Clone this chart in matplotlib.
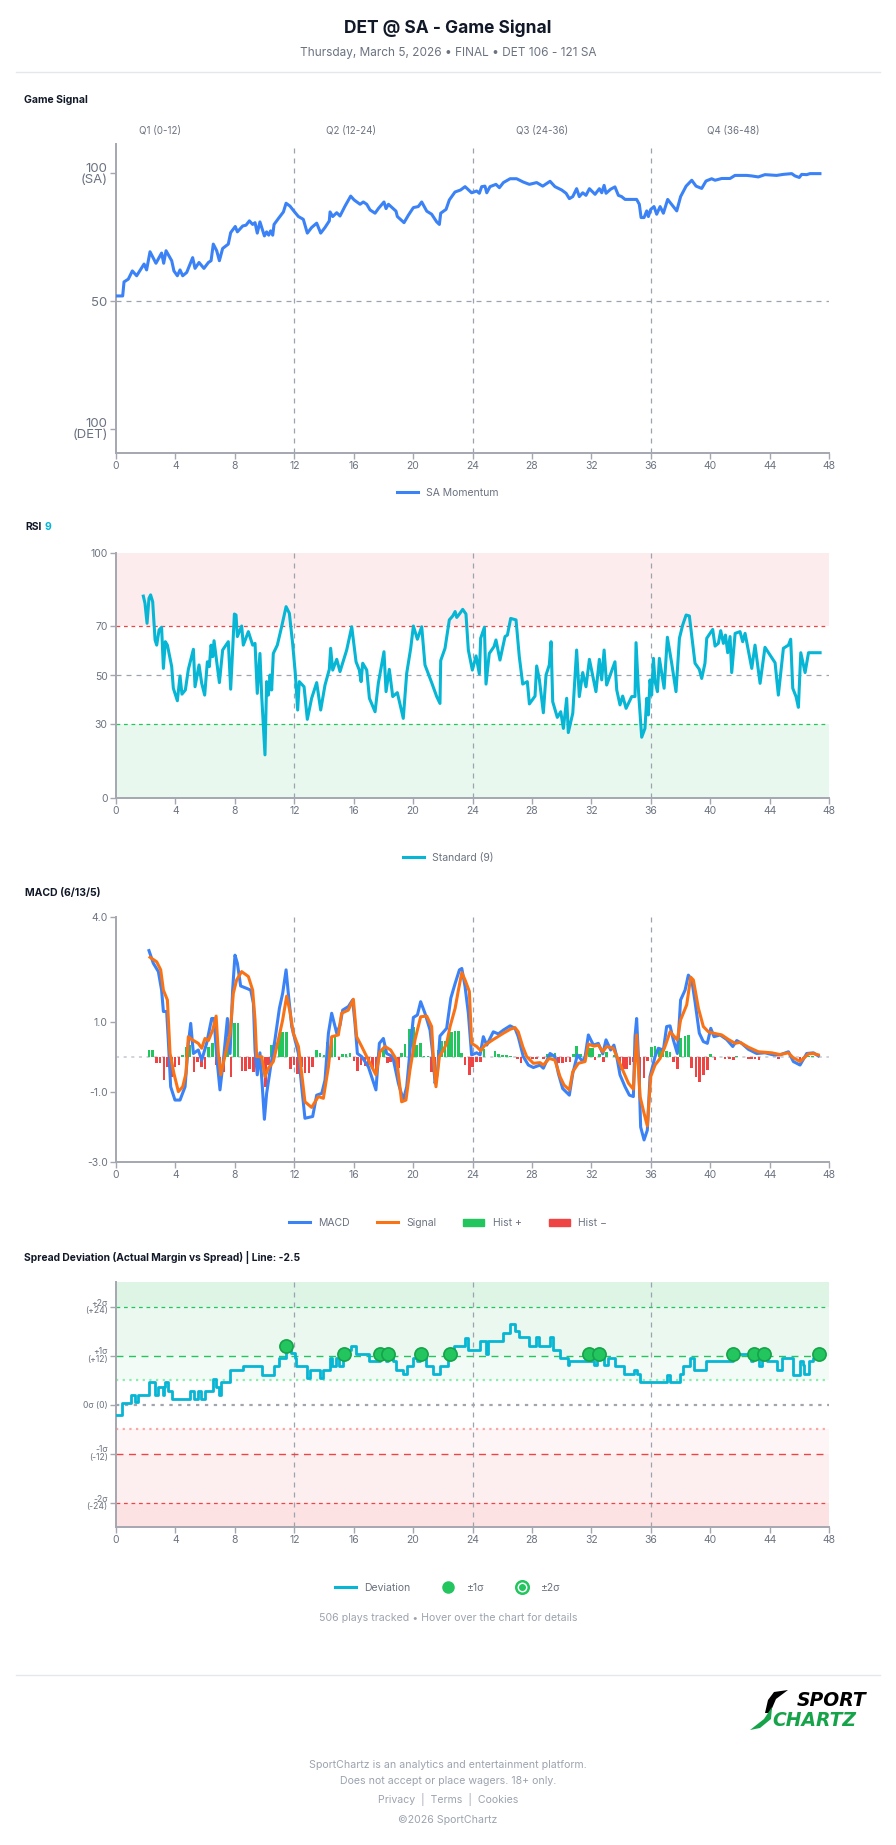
import numpy as np
import matplotlib
matplotlib.use("Agg")
import matplotlib.pyplot as plt
from matplotlib.lines import Line2D
from matplotlib.patches import Patch, Polygon
from matplotlib.legend_handler import HandlerTuple

plt.rcParams["font.family"] = ["Inter", "DejaVu Sans"]

# ---------------- data ----------------
quarters = ["Q1 (0-12)", "Q2 (12-24)", "Q3 (24-36)", "Q4 (36-48)"]

# SA momentum (0 = DET 100, 100 = SA 100)
mom_t = [0, 0.45, 0.54, 0.83, 1.1, 1.39, 1.89, 2.06, 2.29, 2.69, 3.07, 3.21, 3.37, 3.75, 3.9, 4.13, 4.31, 4.49, 4.76,
         5.16, 5.32, 5.59, 5.92, 6.22, 6.4, 6.55, 6.78, 6.96, 7.18, 7.56, 7.72, 8.03, 8.17, 8.53, 8.75, 8.98, 9.2, 9.36,
         9.51, 9.69, 9.99, 10.14, 10.28, 10.41, 10.55, 10.64, 10.93, 11.27, 11.45, 11.71, 11.98, 12.28, 12.61, 12.88,
         13.17, 13.51, 13.78, 14.07, 14.36, 14.41, 14.59, 14.86, 15.08, 15.42, 15.8, 16.03, 16.43, 16.65, 16.88, 17.1,
         17.44, 17.66, 18.04, 18.18, 18.34, 18.85, 18.94, 19.39, 19.68, 20.02, 20.35, 20.58, 20.92, 21.25, 21.59, 21.77,
         21.86, 22.22, 22.44, 22.82, 23.2, 23.5, 23.94, 24.28, 24.46, 24.62, 24.84, 24.96, 25.18, 25.58, 25.81, 26.08,
         26.53, 26.97, 27.42, 27.83, 28.32, 28.73, 29.22, 29.55, 30.0, 30.3, 30.52, 30.75, 31.01, 31.19, 31.42, 31.64,
         31.87, 32.25, 32.54, 32.7, 32.86, 32.99, 33.3, 33.59, 33.82, 34.04, 34.27, 35.05, 35.23, 35.35, 35.55, 35.73,
         35.84, 36.0, 36.22, 36.4, 36.63, 36.85, 37.14, 37.75, 38.01, 38.38, 38.76, 39.05, 39.43, 39.72, 40.1, 40.33,
         40.78, 41.34, 41.67, 42.46, 42.79, 43.24, 43.69, 44.47, 44.92, 45.49, 45.71, 46.0, 46.16, 46.5, 46.72, 47.39]
mom_v = [52, 52, 57.5, 58.6, 61.8, 59.9, 64.5, 62.2, 69.3, 64.8, 68.8, 64.8, 69.7, 65.8, 61.8, 59.9, 62.2, 59.9, 61.2,
         67, 62.8, 65.1, 62.8, 65.1, 65.8, 72.3, 69.7, 65.8, 70.6, 72.3, 76.8, 79.2, 77.1, 79.4, 79.7, 81.4, 80, 80.7,
         76.6, 81, 75.5, 77.1, 75.8, 77.5, 75.8, 80, 82.3, 84.9, 88.3, 87.2, 85.2, 83.1, 82, 76.6,
         78.8, 80.5, 76.6, 78.8, 81.4, 84.9, 83.1, 84.6, 83.3, 87.2, 91.1, 89.6, 87.9, 88.8, 87.9, 85.7,
         84.4, 86.2, 88.8, 86.2, 87.9, 85.2, 83.1, 80.7, 83.6, 86.6, 87, 88.8, 85.2, 84, 81, 80,
         84.4, 85.9, 89.6, 92.7, 93.5, 94.8, 92.4, 93.1, 92.2, 94.8, 95, 92.4, 94.8, 95.7, 94.4, 96.4,
         97.9, 97.9, 96.6, 95.7, 96.4, 95, 96.9, 94.8, 93.5, 92.2, 90.1, 90.9, 94, 90.9, 92.4, 91.4,
         94, 91.8, 94, 92.4, 95.3, 92.2, 93.8, 94.7, 91.4, 90.9, 89.8, 89.8, 87.9, 82.7, 82.7, 85.3,
         83.1, 85.9, 87, 84, 87, 84.4, 89.8, 85.3, 90.9, 95, 97.3, 95, 94.1, 97, 97.9, 97.3,
         98, 98, 99.2, 99.2, 99, 98.6, 99.5, 99.2, 99.6, 99.9, 99, 98.4, 99.6, 99.5, 99.9, 99.9]

# RSI (9)
rsi_t = [1.84, 1.95, 2.09, 2.22, 2.33, 2.47, 2.63, 2.74, 2.9, 3.07, 3.19, 3.32, 3.46, 3.75, 3.86, 4.13, 4.31, 4.44,
         4.67, 4.87, 5.21, 5.32, 5.59, 5.77, 5.97, 6.15, 6.28, 6.4, 6.51, 6.6, 6.96, 7.18, 7.56, 7.72, 7.97, 8.08, 8.17,
         8.46, 8.57, 8.91, 9.2, 9.36, 9.51, 9.69, 9.81, 10.03, 10.14, 10.26, 10.37, 10.48, 10.59, 10.86, 11.15, 11.45,
         11.67, 11.89, 12.07, 12.23, 12.34, 12.66, 12.88, 13.17, 13.51, 13.78, 14.07, 14.36, 14.45, 14.59, 14.86, 15.08,
         15.53, 15.87, 16.16, 16.38, 16.5, 16.61, 16.88, 17.06, 17.44, 17.66, 18.04, 18.18, 18.4, 18.63, 18.94, 19.34,
         19.57, 19.84, 20.02, 20.29, 20.58, 20.8, 21.25, 21.59, 21.81, 21.86, 22.15, 22.44, 22.67, 22.83, 22.94, 23.12,
         23.34, 23.56, 23.72, 23.99, 24.24, 24.46, 24.55, 24.8, 24.91, 25.13, 25.45, 25.58, 25.85, 26.19, 26.35, 26.57,
         26.93, 27.15, 27.38, 27.69, 27.83, 28.21, 28.32, 28.5, 28.77, 28.95, 29.17, 29.29, 29.4, 29.71, 29.94, 30.12,
         30.34, 30.45, 30.75, 31.01, 31.19, 31.42, 31.64, 31.87, 32.31, 32.54, 32.7, 32.86, 33.03, 33.59, 33.71, 33.93,
         34.11, 34.34, 34.72, 34.94, 35.01, 35.17, 35.39, 35.61, 35.73, 35.84, 35.95, 36.06, 36.18, 36.29, 36.45, 36.58,
         36.9, 37.12, 37.41, 37.7, 37.93, 38.15, 38.38, 38.6, 38.98, 39.27, 39.43, 39.65, 39.77, 40.17, 40.33, 40.55,
         40.71, 40.89, 41.03, 41.18, 41.34, 41.45, 41.68, 42.01, 42.19, 42.35, 42.8, 43.02, 43.36, 43.69, 44.37, 44.59,
         44.93, 45.27, 45.42, 45.56, 45.78, 45.94, 46.1, 46.39, 46.62, 47.4]
rsi_v = [82.4, 79.5, 71.3, 81.5, 82.9, 80.1, 64.5, 62.4, 68.6, 69.7, 52.9, 63.8, 62.4, 53.6, 44.8, 39.7, 49.8, 42.4,
         44.1, 52.5, 60.7, 45.4, 54.3, 46.8, 42, 55.6, 53.6, 62.4, 57.7, 64.2, 47.1, 60.4, 63.8, 44.4, 75.1, 74.7, 65.9,
         70.2, 62.4, 67.9, 62.4, 63.1, 42.7, 59, 41.4, 17.6, 47.5, 42, 50.2, 44.1, 59, 62.4, 69.9, 78.1,
         75.4, 63.1, 50.9, 35.9, 47.5, 45.4, 32.1, 40.7, 47.1, 35.9, 46.1, 52.5, 61.1, 52.2, 56.6, 51.6,
         60.4, 69.9, 55.6, 52.2, 47.5, 55, 52.2, 40.7, 35.2, 46.8, 59.7, 43.4, 52.5, 41.4, 43, 32.5,
         50.9, 61.1, 70.2, 64.8, 69.9, 54.3, 47.1, 41.4, 38.6, 56.1, 61.1, 72.7, 74.3, 76.1, 73.7, 75.1,
         77, 75.1, 60.4, 52.2, 58, 50.6, 65.2, 69.7, 46.5, 59, 61.8, 64.5, 56.3, 65.9, 66.5, 73.3,
         72.7, 57.7, 46.5, 47.5, 38.4, 41.6, 53.9, 48.4, 34.8, 50.2, 54.3, 63.8, 39.3, 32.9, 35.2, 28.4,
         40.7, 26.7, 34.6, 60.4, 41.4, 51.2, 45.4, 56.6, 43.4, 56.6, 48.2, 60.4, 46.1, 55.6, 44.1, 38,
         41.6, 36.6, 41.4, 41.4, 63.4, 44.1, 24.8, 28.4, 40.7, 33.9, 48.2, 42, 57, 47.5, 43.4, 57,
         44.8, 65.6, 55, 43.4, 65.2, 70.6, 74.7, 74.3, 55, 52.5, 48.8, 55, 65.2, 68.8, 62, 63.1,
         68.3, 63.1, 66.5, 59.3, 65.9, 51.2, 67.2, 67.9, 63.8, 67.2, 52.9, 62.4, 46.8, 61.5, 55.2, 42,
         61.1, 62.4, 64.8, 44.8, 41.4, 37, 59.3, 51.2, 59.3, 59.3]

# MACD (6/13/5)
macd_t = [2.22, 2.51, 2.85, 3.07, 3.19, 3.41, 3.52, 3.68, 3.97, 4.31, 4.65, 4.87, 5.03, 5.21, 5.54, 5.77, 6.1, 6.44,
          6.6, 6.78, 7.0, 7.23, 7.5, 7.68, 7.85, 8.01, 8.17, 8.39, 8.8, 9.07, 9.25, 9.36, 9.51, 9.69, 9.85, 9.99, 10.14,
          10.41, 10.7, 11.0, 11.22, 11.45, 11.6, 11.83, 12.05, 12.28, 12.5, 12.72, 13.24, 13.51, 13.85, 14.07, 14.3,
          14.52, 14.86, 15.08, 15.26, 15.64, 15.93, 16.09, 16.25, 16.54, 16.99, 17.28, 17.5, 17.73, 18.0, 18.22, 18.63,
          19.01, 19.34, 19.57, 19.84, 20.02, 20.29, 20.51, 20.8, 21.14, 21.32, 21.48, 21.63, 21.81, 22.26, 22.54, 22.83,
          23.12, 23.28, 23.5, 23.72, 23.94, 24.28, 24.51, 24.73, 24.96, 25.4, 25.74, 26.08, 26.53, 26.86, 27.08, 27.42,
          27.76, 28.1, 28.55, 28.77, 29.22, 29.55, 29.78, 30.07, 30.52, 30.75, 31.06, 31.42, 31.58, 31.8, 32.14, 32.47,
          32.77, 32.99, 33.3, 33.52, 33.71, 33.93, 34.27, 34.56, 34.83, 34.94, 35.05, 35.19, 35.32, 35.55, 35.77, 35.95,
          36.29, 36.51, 36.85, 37.07, 37.3, 37.52, 37.79, 38.01, 38.31, 38.53, 38.76, 38.98, 39.27, 39.54, 39.81, 40.04,
          40.26, 40.67, 41.11, 41.52, 41.79, 42.12, 42.57, 43.13, 43.69, 44.25, 44.7, 45.27, 45.6, 46.05, 46.5, 46.95,
          47.28]
macd_v = [3.04, 2.68, 2.44, 1.91, 1.3, 1.3, 0.49, -0.85, -1.23, -1.23, -0.85, 0.39, 0.96, 0.1, 0.2, -0.09, 0.39, 1.1,
          1.1, 0.01, -0.94, -0.09, 1.1, 0.1, 1.91, 2.91, 2.68, 2.03, 1.96, 1.91, 1.53, 0.2, -0.51, 0.12, -0.85, -1.78, -1.04,
          -0.28, 0.49, 1.39, 1.82, 2.49, 1.82, 0.87, 0.49, 0.1, -0.85, -1.75, -1.7, -1.09, -1.04, -0.66, 0.68,
          1.25, 0.68, 0.91, 1.34, 1.44, 1.63, 0.96, 0.1, 0.01, -0.28, -0.66, -0.94, 0.39, 0.53, 0.1, 0.01,
          -0.75, -1.23, -0.85, 0.39, 1.13, 1.2, 1.58, 1.25, 0.77, 0.1, -0.75, -0.47, 0.6, 0.82, 1.68, 2.1,
          2.49, 2.53, 2.01, 1.25, 0.06, 0.12, 0.06, 0.58, 0.34, 0.72, 0.66, 0.77, 0.89, 0.82, 0.58, 0.01,
          -0.23, -0.3, -0.23, -0.32, 0.1, 0.01, -0.47, -0.9, -1.09, -0.47, 0.06, -0.13, 0.01, 0.63, 0.34, 0.39,
          0.09, 0.49, 0.2, 0.34, 0.01, -0.51, -0.85, -1.09, -1.13, 0.58, 1.1, -0.18, -2.0, -2.37, -2.09, -0.56,
          0.01, 0.25, 0.2, 0.87, 0.89, 0.49, 0.1, 1.63, 1.91, 2.34, 2.2, 1.58, 0.68, 0.44, 0.39, 0.82,
          0.58, 0.63, 0.5, 0.3, 0.47, 0.39, 0.22, 0.1, 0.12, 0.06, 0.06, 0.15, -0.13, -0.23, 0.1, 0.12,
          0.03]
sig_t = [2.29, 2.74, 3.01, 3.19, 3.46, 3.64, 3.9, 4.2, 4.49, 4.71, 4.87, 5.1, 5.54, 5.77, 5.99, 6.22, 6.51, 6.74,
         6.89, 7.05, 7.27, 7.68, 7.9, 8.12, 8.46, 8.91, 9.2, 9.36, 9.47, 9.81, 10.03, 10.26, 10.59, 10.93, 11.22, 11.49,
         11.71, 11.94, 12.28, 12.5, 12.72, 13.17, 13.62, 13.96, 14.3, 14.52, 14.97, 15.19, 15.64, 15.98, 16.2, 16.54,
         17.1, 17.5, 17.77, 18.11, 18.49, 18.9, 19.23, 19.52, 19.79, 20.13, 20.51, 20.92, 21.25, 21.36, 21.54, 21.77,
         22.04, 22.26, 22.49, 22.83, 23.05, 23.28, 23.5, 23.79, 23.94, 24.28, 24.55, 24.84, 25.4, 26.08, 26.53, 26.86,
         27.08, 27.38, 27.65, 28.1, 28.55, 28.77, 29.17, 29.55, 29.89, 30.16, 30.52, 30.75, 31.13, 31.58, 31.8, 32.18,
         32.47, 32.77, 33.03, 33.48, 33.82, 34.16, 34.5, 34.83, 35.05, 35.28, 35.55, 35.77, 36.0, 36.29, 36.63, 36.96,
         37.3, 37.79, 38.01, 38.42, 38.69, 38.87, 39.21, 39.54, 39.88, 40.22, 40.78, 41.23, 41.68, 42.01, 42.57, 43.24,
         44.14, 44.7, 45.27, 45.56, 46.05, 46.62, 46.95, 47.28]
sig_v = [2.85, 2.72, 2.49, 1.91, 1.63, 0.1, -0.47, -0.99, -0.85, -0.47, 0.58, 0.5, 0.39, 0.25, 0.53, 0.47, 0.77, 1.17,
         0.1, -0.51, -0.09, 0.68, 1.82, 2.2, 2.44, 2.3, 1.91, 1.06, 0.01, 0.01, -0.56, -0.32, -0.13, 0.49, 1.06, 1.74,
         1.3, 0.68, 0.3, -0.47, -1.28, -1.44, -1.13, -1.18, -0.28, 0.58, 0.63, 1.25, 1.34, 1.65, 0.58, 0.3,
         -0.18, -0.51, 0.15, 0.3, 0.2, -0.09, -1.28, -1.23, -0.37, 0.49, 1.15, 1.17, 0.87, 0.01, -0.85, 0.01,
         0.2, 0.39, 0.87, 1.39, 1.91, 2.41, 2.2, 1.87, 0.39, 0.3, 0.18, 0.34, 0.5, 0.68, 0.79, 0.84,
         0.72, 0.3, 0.01, -0.18, -0.16, -0.23, -0.04, -0.09, -0.56, -0.8, -0.94, -0.42, -0.18, -0.13, 0.37, 0.31,
         0.34, 0.15, 0.3, 0.25, -0.09, -0.42, -0.75, -0.92, 0.63, -1.13, -1.61, -1.97, -0.56, -0.23, -0.04, 0.3,
         0.72, 0.49, 1.06, 1.49, 2.28, 2.2, 1.39, 0.87, 0.72, 0.68, 0.63, 0.5, 0.39, 0.42, 0.28, 0.15,
         0.12, 0.07, 0.12, -0.01, -0.13, 0.09, 0.1, 0.06]
hist_t = [2.22, 2.47, 2.74, 2.96, 3.23, 3.48, 3.75, 3.97, 4.24, 4.49, 4.71, 4.94, 5.25, 5.48, 5.77, 5.99, 6.22, 6.49,
          6.73, 7.0, 7.27, 7.5, 7.74, 7.99, 8.22, 8.49, 8.74, 8.97, 9.25, 9.5, 9.8, 10.08, 10.28, 10.48, 10.7, 10.99,
          11.22, 11.49, 11.76, 11.98, 12.23, 12.5, 12.72, 12.99, 13.24, 13.51, 13.73, 14.0, 14.25, 14.52, 14.74, 15.01,
          15.26, 15.48, 15.75, 16.02, 16.25, 16.5, 16.76, 16.99, 17.28, 17.5, 17.77, 17.99, 18.27, 18.49, 18.78, 19.01,
          19.23, 19.46, 19.75, 20.02, 20.24, 20.51, 20.73, 21.0, 21.25, 21.48, 21.7, 21.93, 22.15, 22.37, 22.6, 22.82,
          23.05, 23.27, 23.5, 23.79, 24.01, 24.28, 24.55, 24.78, 25.52, 25.74, 26.03, 26.3, 26.57, 27.02, 27.27, 27.76,
          28.05, 28.32, 28.77, 29.04, 29.26, 29.55, 29.78, 30.07, 30.3, 30.57, 30.79, 31.01, 31.28, 31.87, 32.09, 32.25,
          32.54, 32.81, 33.03, 33.53, 33.93, 34.16, 34.38, 34.61, 34.83, 35.28, 35.55, 35.77, 36.06, 36.29, 36.58, 36.8,
          37.07, 37.3, 37.52, 37.79, 38.01, 38.31, 38.53, 38.76, 39.05, 39.27, 39.54, 39.81, 40.04, 40.33, 41.0, 41.29,
          41.56, 41.79, 42.57, 42.79, 43.02, 43.29, 44.59, 46.05, 46.28, 46.61, 46.9]
hist_v = [0.19, 0.19, -0.18, -0.18, -0.67, -0.29, -0.57, -0.29, -0.23, 0.05, 0.29, 0.33, -0.43, -0.14, -0.29, -0.33,
          0.29, 0.39, -0.23, -0.43, -0.43, 0.55, -0.57, 0.98, 0.98, -0.4, -0.4, -0.33, -0.42, -0.24, -0.29, -0.86, -0.24,
          0.33, 0.48, 0.63, 0.72, 0.72, -0.33, -0.24, -0.48, -0.29, -0.46, -0.46, -0.29, 0.21, 0.11, 0.05, 0.43, 0.58,
          0.58, -0.08, 0.08, 0.08, 0.12, -0.1, -0.4, -0.24, -0.27, -0.24, -0.33, -0.46, 0.1, 0.21, -0.17, -0.14, -0.19,
          -0.3, 0.11, 0.36, 0.81, 0.87, 0.33, 0.41, 0.02, 0.02, -0.43, -0.55, 0.19, 0.47, 0.47, 0.63, 0.72, 0.75,
          0.75, 0.12, -0.23, -0.51, -0.28, -0.13, -0.13, 0.22, 0.17, 0.08, 0.05, 0.05, 0.03, -0.07, -0.16, -0.05,
          -0.07, -0.05, -0.07, 0.08, 0.12, 0.12, -0.16, -0.18, -0.14, -0.14, 0.1, 0.32, 0.1, 0.25, 0.25, -0.09,
          0.1, -0.13, 0.15, 0.05, -0.37, -0.33, -0.33, -0.23, -0.14, -0.76, -0.61, -0.1, 0.3, 0.31, 0.24, 0.19,
          0.17, 0.14, -0.14, -0.35, 0.53, 0.6, 0.63, -0.32, -0.56, -0.7, -0.51, -0.37, 0.09, -0.08, -0.05, -0.07,
          -0.09, 0.03, -0.05, -0.07, -0.05, -0.08, -0.05, -0.08, -0.05, 0.03, 0.03]

# Spread deviation (step series) and the +1 sigma hits
dev_t = [0, 0.42, 1.0, 1.25, 1.5, 2.25, 2.6, 2.8, 3.15, 3.22, 3.32, 3.48, 3.8, 4.95, 5.28, 5.55, 5.75, 6.02, 6.52,
         6.72, 6.92, 7.08, 7.65, 8.55, 9.85, 10.62, 11.0, 11.42, 11.8, 12.02, 12.14, 12.86, 13.05, 13.76, 13.92, 14.42,
         14.56, 14.82, 15.0, 15.25, 15.6, 15.82, 16.15, 17.04, 17.74, 18.15, 18.3, 18.65, 18.82, 19.35, 19.62, 19.98,
         20.25, 20.45, 20.88, 21.32, 21.84, 22.35, 22.46, 22.78, 23.52, 23.7, 24.52, 24.9, 25.02, 26.08, 26.5, 26.88,
         27.15, 27.82, 28.28, 28.45, 29.22, 29.4, 29.9, 30.42, 30.5, 32.2, 32.38, 32.88, 33.1, 33.58, 34.2, 34.88,
         35.1, 35.3, 37.12, 37.3, 37.95, 38.15, 38.62, 38.92, 39.75, 41.55, 42.75, 42.9, 43.3, 43.5, 43.85, 44.5,
         44.85, 45.55, 46.05, 46.25, 46.35, 46.65, 46.9, 47.2, 47.4]
dev_v = [-2.5, 0.4, 2.4, 0.7, 2.4, 5.5, 2.4, 4.4, 2.4, 4.4, 5.4, 3.4, 1.4, 3.4, 1.4, 3.4, 1.4, 3.4, 6.3,
         4.4, 2.4, 5.5, 8.5, 9.4, 7.3, 9.4, 11.4, 13.9, 12.6, 11.4, 9.4, 6.5, 8.5, 6.5, 8.5, 11.4,
         9.4, 11.4, 9.4, 12.4, 13.4, 14.4, 12.4, 10.6, 12.4, 10.6, 12.4, 10.6, 8.5, 7.5, 9.4, 11.4,
         10.6, 12.4, 9.4, 7.5, 9.4, 11.4, 12.4, 14.4, 16.2, 13.4, 15.5, 12.4, 15.5, 17.6, 19.6, 18.0,
         16.5, 14.4, 16.5, 14.4, 16.5, 13.4, 11.4, 9.6, 10.6, 9.6, 11.4, 9.6, 11.4, 9.4, 7.5, 8.5,
         7.5, 5.5, 7.3, 5.5, 7.5, 9.4, 11.4, 8.5, 10.6, 12.4, 10.6, 12.4, 9.4, 11.4, 10.6, 8.5,
         11.4, 7.3, 10.6, 9.6, 7.5, 10.6, 11.4, 12.4, 12.4]
hit_t = [11.45, 15.37, 17.77, 18.34, 20.53, 22.49, 31.87, 32.54, 41.56, 42.95, 43.65, 47.33]
hit_v = [14.4, 12.4, 12.4, 12.4, 12.4, 12.4, 12.4, 12.4, 12.4, 12.4, 12.4, 12.4]

footer_lines = ["SportChartz is an analytics and entertainment platform.",
                "Does not accept or place wagers. 18+ only.",
                "Privacy  |  Terms  |  Cookies",
                "\u00a92026 SportChartz"]

# ---------------- styling ----------------
W, H = 896, 1845
BLUE, CYAN, ORANGE = "#3b82f6", "#06b6d4", "#f97316"
GREEN, RED = "#22c55e", "#ef4444"
GRID, AXIS, TICK, DARK = "#9ca3af", "#a5a7b0", "#6b7280", "#111827"
DASH = (0, (4, 4))
LW = 2.2


def fx(px):
    return px / W


def fy(py):
    return 1 - py / H


def add_panel(top, bottom):
    ax = fig.add_axes([fx(116), fy(bottom), fx(829) - fx(116), (bottom - top) / H])
    for s in ("top", "right"):
        ax.spines[s].set_visible(False)
    for s in ("left", "bottom"):
        ax.spines[s].set_color(AXIS)
        ax.spines[s].set_linewidth(1.4)
    ax.tick_params(colors=AXIS, labelcolor=TICK, labelsize=7.5, length=4, width=1, pad=2)
    ax.set_xlim(0, 48)
    ax.set_xticks(range(0, 49, 4))
    for q in (12, 24, 36):
        ax.axvline(q, color=GRID, lw=0.9, ls=DASH, zorder=1)
    return ax


def legend(handles, labels, py, **kw):
    fig.legend(handles, labels, loc="center", bbox_to_anchor=(0.5, fy(py)), ncol=len(labels),
               frameon=False, fontsize=7.5, labelcolor=TICK, handlelength=2.0,
               columnspacing=2.6, handletextpad=0.8, **kw)


fig = plt.figure(figsize=(W / 100, H / 100), dpi=100)
fig.patch.set_facecolor("white")

# -------- header --------
fig.text(0.5, fy(28), "DET @ SA - Game Signal", ha="center", va="center",
         fontsize=12.5, fontweight="bold", color=DARK)
fig.text(0.5, fy(53), "Thursday, March 5, 2026 \u2022 FINAL \u2022 DET 106 - 121 SA", ha="center",
         va="center", fontsize=8.5, color=TICK)
fig.add_artist(Line2D([fx(16), fx(880)], [fy(72), fy(72)], color="#e5e7eb", lw=1))

# -------- Game signal --------
fig.text(fx(24), fy(100), "Game Signal", ha="left", va="center", fontsize=7.5, fontweight="bold", color=DARK)
for i, q in enumerate(quarters):
    fig.text(fx(160 + 191 * i), fy(131), q, ha="center", va="center", fontsize=7, color=TICK)

ax1 = add_panel(144, 453)
ax1.set_ylim(-9.5, 111.5)
ax1.axhline(50, color=GRID, lw=0.9, ls=DASH, zorder=1)
ax1.plot(mom_t, mom_v, color=BLUE, lw=LW, solid_joinstyle="round", zorder=3)
ax1.set_yticks([0, 50, 100])
ax1.set_yticklabels(["100\n(DET)", "50", "100\n(SA)"], fontsize=9.5, linespacing=0.85)
legend([Line2D([], [], color=BLUE, lw=2.2)], ["SA Momentum"], 493)

# -------- RSI --------
fig.text(fx(25), fy(527), "RSI", ha="left", va="center", fontsize=7.5, fontweight="bold", color=DARK)
fig.text(fx(44), fy(527), "9", ha="left", va="center", fontsize=7.5, fontweight="bold", color=CYAN)
ax2 = add_panel(553, 798)
ax2.set_ylim(0, 100)
ax2.axhspan(70, 100, color="#fdeced", lw=0, zorder=0)
ax2.axhspan(0, 30, color="#e8f8ee", lw=0, zorder=0)
ax2.axhline(70, color=RED, lw=0.9, ls=(0, (3, 3)), zorder=1)
ax2.axhline(30, color=GREEN, lw=0.9, ls=(0, (3, 3)), zorder=1)
ax2.axhline(50, color=GRID, lw=0.9, ls=DASH, zorder=1)
ax2.plot(rsi_t, rsi_v, color=CYAN, lw=LW, solid_joinstyle="round", zorder=3)
ax2.set_yticks([0, 30, 50, 70, 100])
legend([Line2D([], [], color=CYAN, lw=2.2)], ["Standard (9)"], 858)

# -------- MACD --------
fig.text(fx(25), fy(893), "MACD (6/13/5)", ha="left", va="center", fontsize=7.5, fontweight="bold", color=DARK)
ax3 = add_panel(917, 1162)
ax3.set_ylim(-3, 4)
ax3.axhline(0, color="#c4c7ce", lw=1.1, ls=(0, (2, 3)), zorder=1)
hv = np.asarray(hist_v)
ax3.bar(hist_t, hv, width=0.18, color=np.where(hv >= 0, GREEN, RED), lw=0, zorder=2)
ax3.plot(macd_t, macd_v, color=BLUE, lw=LW, solid_joinstyle="round", zorder=3)
ax3.plot(sig_t, sig_v, color=ORANGE, lw=LW, solid_joinstyle="round", zorder=4)
ax3.set_yticks([-3, -1, 1, 4])
ax3.set_yticklabels(["-3.0", "-1.0", "1.0", "4.0"])
legend([Line2D([], [], color=BLUE, lw=2.2), Line2D([], [], color=ORANGE, lw=2.2),
        Patch(color=GREEN), Patch(color=RED)],
       ["MACD", "Signal", "Hist +", "Hist \u2212"], 1223)

# -------- Spread deviation --------
fig.text(fx(24), fy(1257), "Spread Deviation (Actual Margin vs Spread) | Line: -2.5", ha="left",
         va="center", fontsize=7.4, fontweight="bold", color=DARK)
ax4 = add_panel(1282, 1527)
ax4.set_ylim(-30, 30)
bands = [(24, 30, "#def5e6"), (12, 24, "#eaf8ef"), (6, 12, "#f3fbf6"),
         (-12, -6, "#fef6f6"), (-24, -12, "#fdeff0"), (-30, -24, "#fde2e3")]
for lo, hi, c in bands:
    ax4.axhspan(lo, hi, color=c, lw=0, zorder=0)
ax4.axhline(24, color=GREEN, lw=0.9, ls=(0, (3, 3)), zorder=1)
ax4.axhline(12, color=GREEN, lw=1.0, ls=(0, (5, 4)), zorder=1)
ax4.axhline(6, color="#86efac", lw=1.6, ls=(0, (1, 2)), zorder=1)
ax4.axhline(0, color="#a1a5ae", lw=1.6, ls=(0, (1.5, 2.5)), zorder=1)
ax4.axhline(-6, color="#fca5a5", lw=1.6, ls=(0, (1, 2)), zorder=1)
ax4.axhline(-12, color=RED, lw=1.0, ls=(0, (5, 4)), zorder=1)
ax4.axhline(-24, color=RED, lw=0.9, ls=(0, (3, 3)), zorder=1)
ax4.plot(dev_t, dev_v, color=CYAN, lw=2.0, drawstyle="steps-post", zorder=3)
ax4.plot(hit_t, hit_v, ls="none", marker="o", ms=9.5, mfc=GREEN, mec="#16a34a", mew=1.2, zorder=4)
ax4.set_yticks([-24, -12, 0, 12, 24])
ax4.set_yticklabels(["-2\u03c3\n(-24)", "-1\u03c3\n(-12)", "0\u03c3 (0)", "+1\u03c3\n(+12)", "+2\u03c3\n(+24)"],
                    fontsize=6.2, linespacing=0.85)
ring = (Line2D([], [], ls="none", marker="o", ms=9, mfc="white", mec=GREEN, mew=1.8),
        Line2D([], [], ls="none", marker="o", ms=4, mfc=GREEN, mec=GREEN))
legend([Line2D([], [], color=CYAN, lw=2.2),
        Line2D([], [], ls="none", marker="o", ms=8, mfc=GREEN, mec=GREEN), ring],
       ["Deviation", "\u00b11\u03c3", "\u00b12\u03c3"], 1588,
       handler_map={tuple: HandlerTuple(ndivide=1)})
fig.text(0.5, fy(1618), "506 plays tracked \u2022 Hover over the chart for details", ha="center",
         va="center", fontsize=7.6, color=GRID)

# -------- footer --------
fig.add_artist(Line2D([fx(16), fx(880)], [fy(1675), fy(1675)], color="#e5e7eb", lw=1))
fig.text(fx(866), fy(1700), "SPORT", ha="right", va="center", fontsize=13.5, fontweight="heavy",
         style="italic", color="black", family="DejaVu Sans")
fig.text(fx(856), fy(1721), "CHARTZ", ha="right", va="center", fontsize=13.5, fontweight="bold",
         style="italic", color="#16a34a", family="DejaVu Sans")
fig.add_artist(Polygon([(fx(774), fy(1692)), (fx(788), fy(1690)), (fx(776), fy(1699)), (fx(770), fy(1713)),
                        (fx(765), fy(1713)), (fx(768), fy(1700))], closed=True, color="black", lw=0))
fig.add_artist(Polygon([(fx(750), fy(1730)), (fx(764), fy(1719)), (fx(772), fy(1707)), (fx(771), fy(1719)),
                        (fx(760), fy(1728))], closed=True, color="#16a34a", lw=0))
for py, line in zip([1765, 1781, 1800, 1820], footer_lines):
    fig.text(0.5, fy(py), line, ha="center", va="center", fontsize=7.6, color=GRID)

fig.savefig("out.png", dpi=100, facecolor="white")
